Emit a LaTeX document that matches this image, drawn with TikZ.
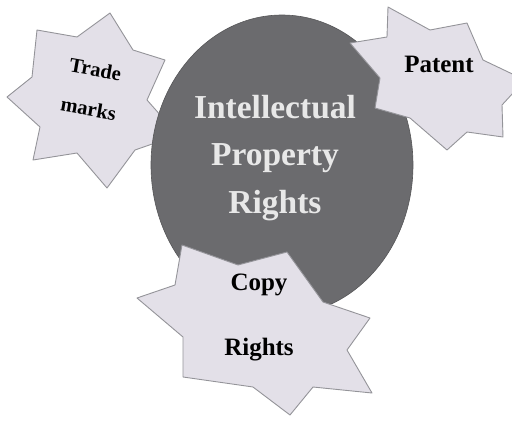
\documentclass[tikz,border=0pt]{standalone}
\usepackage{fontspec}
\setmainfont{Liberation Serif}
\begin{document}
\begin{tikzpicture}[x=1pt, y=-1pt,
    badge/.style={draw=badge-edge, fill=badge-fill, line width=0.9pt, line join=round},
    badgetext/.style={font=\bfseries\fontsize{25}{30}\selectfont, text=black, align=center}]
    \definecolor{badge-fill}{rgb}{0.89,0.88,0.91}
    \definecolor{badge-edge}{rgb}{0.58,0.58,0.60}
    \definecolor{core-fill}{rgb}{0.42,0.42,0.43}
    \definecolor{core-text}{rgb}{0.91,0.91,0.91}
    \useasboundingbox (0,0) rectangle (512,421);
    % trade marks star, behind the circle
    \draw[badge] (110,13) -- (133,50) -- (165,60) -- (147,100) -- (178,135) --
      (135,150) -- (107,188) -- (77,153) -- (33,160) -- (40,127) --
      (7,97) -- (32,77) -- (37,30) -- (77,37) -- cycle;
    % the circle
    \draw[fill=core-fill, draw=core-fill!80!black, line width=0.6pt]
      (282,165) ellipse [x radius=131, y radius=150];
    % patent star
    \draw[badge] (388,7) -- (430,30) -- (467,23) -- (483,60) -- (525,80) --
      (502,105) -- (503,137) -- (467,132) -- (447,150) -- (410,118) --
      (375,108) -- (380,78) -- (350,43) -- (387,37) -- cycle;
    % copy rights star
    \draw[badge] (182,245) -- (238,265) -- (287,252) -- (323,302) -- (370,318) --
      (347,350) -- (372,393) -- (313,387) -- (290,415) -- (253,387) --
      (183,377) -- (183,337) -- (137,298) -- (175,285) -- cycle;
    \node[font=\bfseries\fontsize{33.5}{47.5}\selectfont, text=core-text, align=center]
      (ipr) at (275,158) {Intellectual\\Property\\Rights};
    \node[font=\bfseries\fontsize{20.5}{40}\selectfont, text=black, align=center, rotate=-10]
      (trade) at (92,89) {Trade\\marks};
    \node[badgetext] (patent) at (439,64) {Patent};
    \node[badgetext, font=\bfseries\fontsize{25}{65}\selectfont] (copy) at (259,317) {Copy\\Rights};
\end{tikzpicture}
\end{document}
